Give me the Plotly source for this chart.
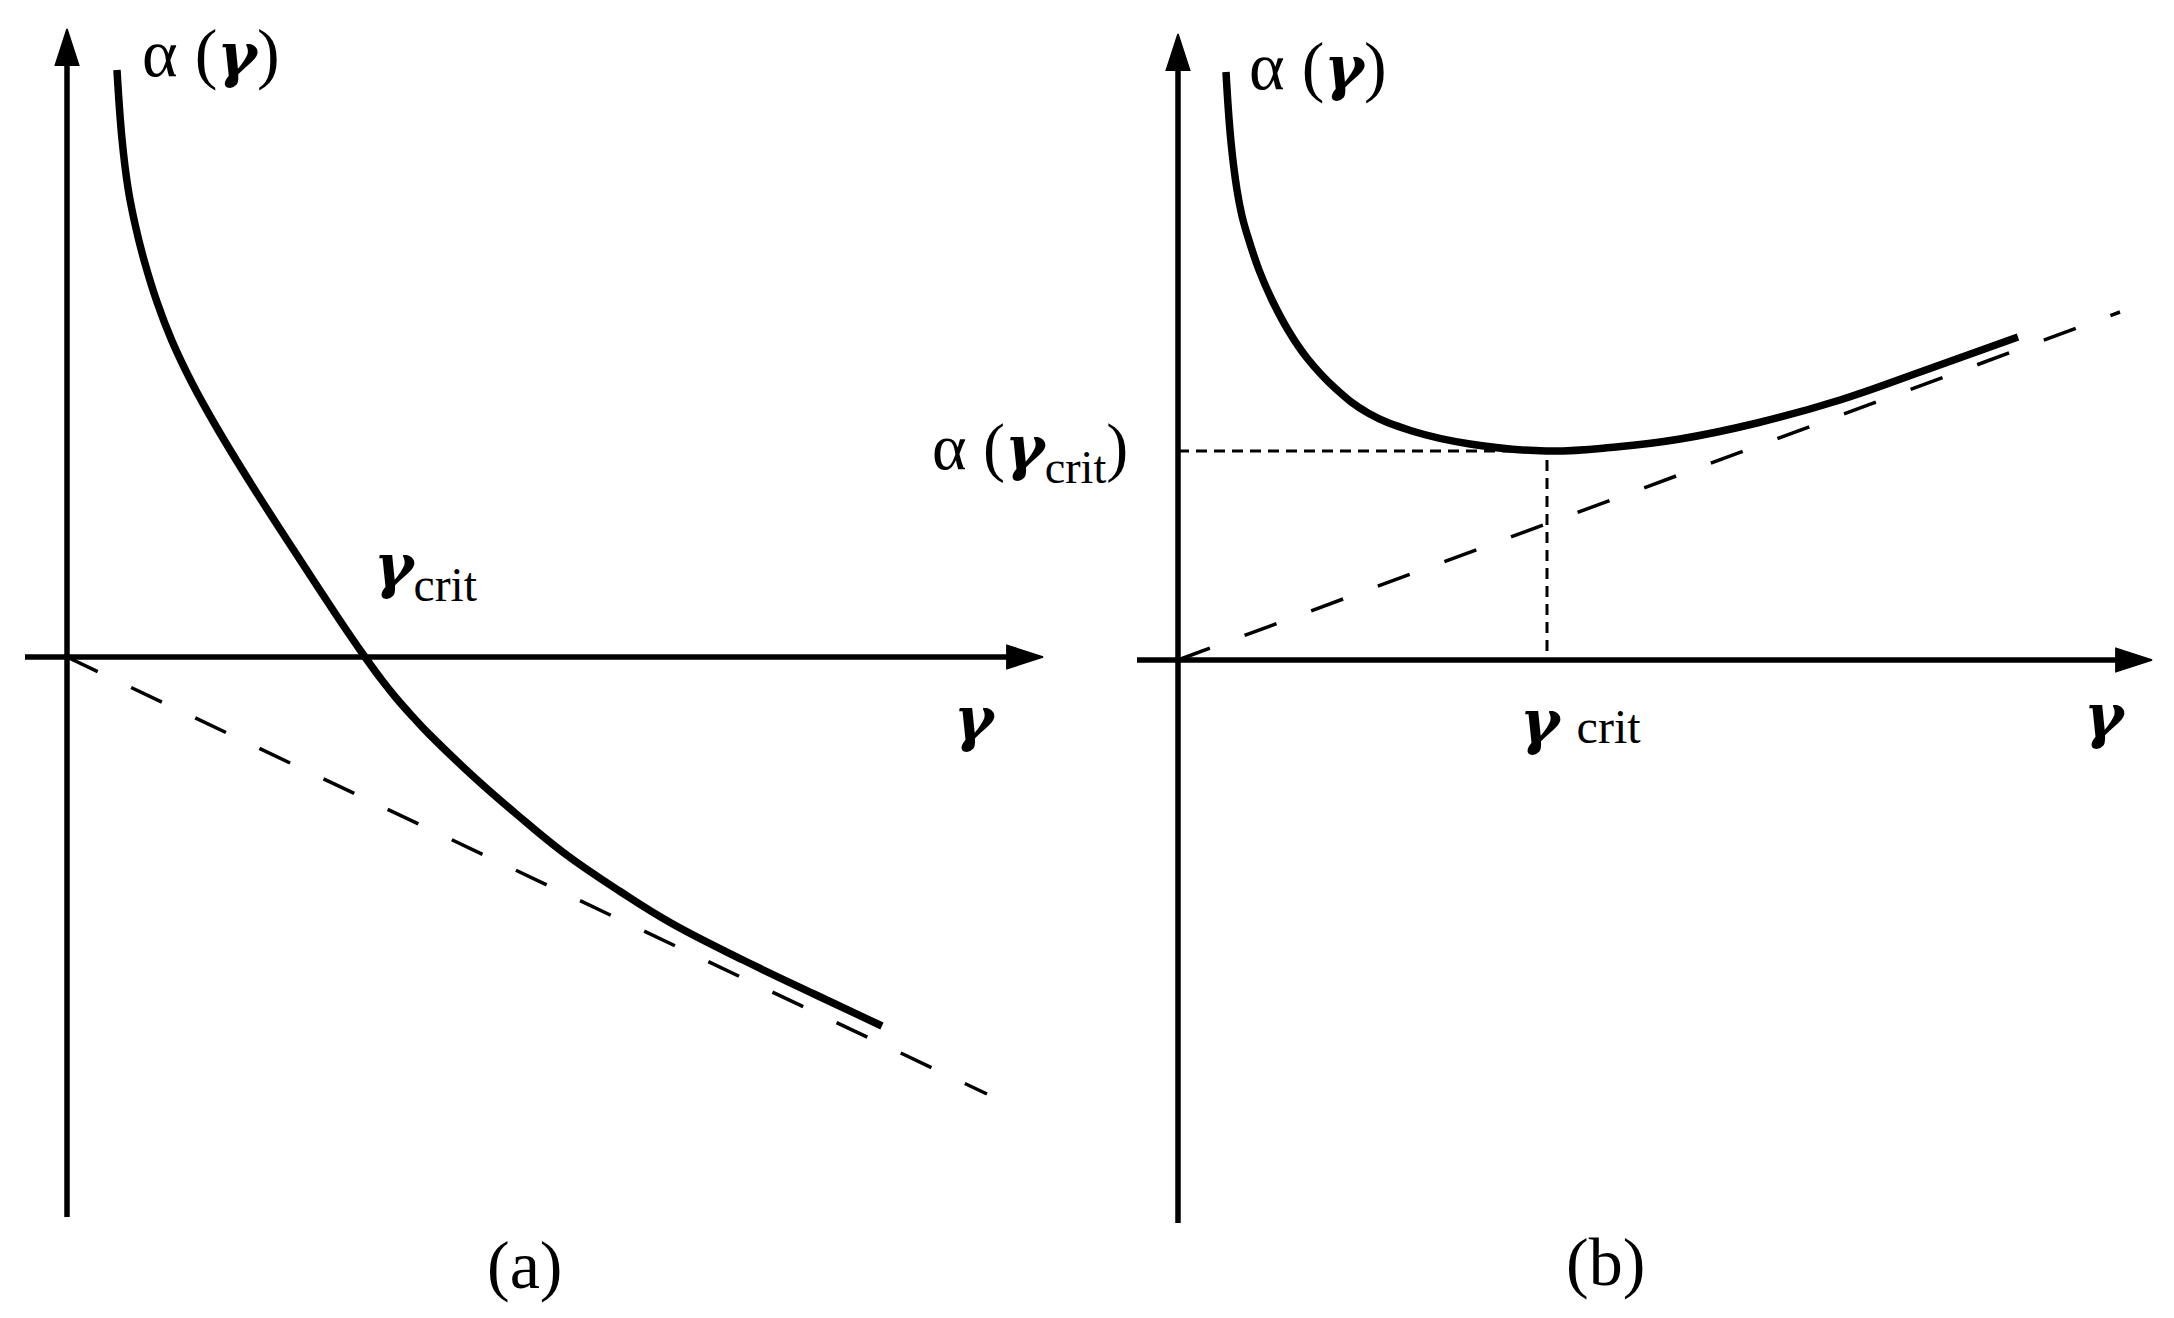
import plotly.graph_objects as go

# --- panel (a): alpha(gamma) falls through zero, asymptote with negative slope
gamma_a = [0.50, 0.55, 0.61, 0.68, 0.77, 0.90, 1.05, 1.25, 1.50, 1.86, 2.26, 2.62, 2.80,
           2.98, 3.14, 3.30, 3.46, 3.62, 4.08, 4.47, 4.97, 5.54, 6.04, 6.76, 7.47, 8.15]
alpha_a = [5.87, 5.18, 4.69, 4.33, 3.97, 3.55, 3.16, 2.74, 2.29, 1.70, 1.08, 0.53, 0.26,
           0.00, -0.22, -0.42, -0.60, -0.77, -1.21, -1.55, -1.96, -2.35, -2.66, -3.03, -3.37, -3.69]
asym_a_gamma = [0.0, 9.20]
asym_a_alpha = [0.0, -4.37]

# --- panel (b): alpha(gamma) with a minimum, asymptote with positive slope
gamma_b = [0.48, 0.53, 0.59, 0.64, 0.69, 0.81, 0.94, 1.10, 1.29, 1.58, 1.90, 2.34,
           2.92, 3.68, 4.38, 5.02, 5.79, 6.62, 7.45, 8.40]
alpha_b = [5.88, 5.18, 4.70, 4.44, 4.26, 3.90, 3.60, 3.30, 3.02, 2.71, 2.47, 2.29,
           2.16, 2.09, 2.13, 2.21, 2.37, 2.60, 2.89, 3.23]
asym_b_gamma = [0.0, 9.42]
asym_b_alpha = [0.0, 3.48]
gamma_crit_b = 3.69
alpha_crit_b = 2.09

# axis extents (data units) for the hand-drawn arrows
axis_a_x = [-0.42, 9.76]
axis_a_y = [-5.60, 6.28]
axis_b_x = [-0.41, 9.74]
axis_b_y = [-5.63, 6.26]

FONT = "Liberation Serif, Times New Roman, serif"
BLACK = "black"
G = "<span style='font-family:DejaVu Serif;font-size:60px'><b><i>γ</i></b></span>"

fig = go.Figure()


def arrow_axis(xs, ys, xa, ya):
    return go.Scatter(
        x=xs, y=ys, xaxis=xa, yaxis=ya, mode="lines+markers", opacity=1,
        line=dict(color=BLACK, width=5.5),
        marker=dict(symbol="arrow", size=[0, 38], angleref="previous", color=BLACK,
                    opacity=1, line=dict(color=BLACK, width=1.5)),
        hoverinfo="skip",
    )


# panel (a)
fig.add_trace(arrow_axis(axis_a_x, [0, 0], "x", "y"))
fig.add_trace(arrow_axis([0, 0], axis_a_y, "x", "y"))
fig.add_trace(go.Scatter(x=asym_a_gamma, y=asym_a_alpha, xaxis="x", yaxis="y", mode="lines",
                         line=dict(color=BLACK, width=3.5, dash="34px,37px")))
fig.add_trace(go.Scatter(x=gamma_a, y=alpha_a, xaxis="x", yaxis="y", mode="lines",
                         line=dict(color=BLACK, width=7.5, shape="spline", smoothing=1.2)))

# panel (b)
fig.add_trace(arrow_axis(axis_b_x, [0, 0], "x2", "y2"))
fig.add_trace(arrow_axis([0, 0], axis_b_y, "x2", "y2"))
fig.add_trace(go.Scatter(x=asym_b_gamma, y=asym_b_alpha, xaxis="x2", yaxis="y2", mode="lines",
                         line=dict(color=BLACK, width=3.5, dash="34px,37px")))
fig.add_trace(go.Scatter(x=[0, gamma_crit_b, gamma_crit_b], y=[alpha_crit_b, alpha_crit_b, 0],
                         xaxis="x2", yaxis="y2", mode="lines",
                         line=dict(color=BLACK, width=3, dash="11px,7px")))
fig.add_trace(go.Scatter(x=gamma_b, y=alpha_b, xaxis="x2", yaxis="y2", mode="lines",
                         line=dict(color=BLACK, width=7.5, shape="spline", smoothing=1.2)))


def label(text, x, y, xref, yref, size=68, xanchor="center"):
    fig.add_annotation(text=text, x=x, y=y, xref=xref, yref=yref, showarrow=False,
                       xanchor=xanchor, yanchor="middle",
                       font=dict(family=FONT, size=size, color=BLACK))


# labels, panel (a)
label("α (" + G + ")", 1.44, 6.04, "x", "y")
label(G + "<sub>crit</sub>", 3.58, 0.86, "x", "y")
label(G, 9.08, -0.62, "x", "y")
label("(a)", 4.57, -6.08, "x", "y")

# labels, panel (b)
label("α (" + G + "<sub>crit</sub>)", -0.48, alpha_crit_b, "x2", "y2", size=66, xanchor="right")
label("α (" + G + ")", 1.40, 5.94, "x2", "y2")
label(G + " <span style='font-size:48px'>crit</span>", 4.02, -0.60, "x2", "y2")
label(G, 9.27, -0.56, "x2", "y2")
label("(b)", 4.27, -6.02, "x2", "y2")

# ranges: 100 px per unit; page body adds an 8 px offset, compensated here
hidden = dict(visible=False, showgrid=False, zeroline=False, fixedrange=True)
fig.update_layout(
    width=2174, height=1318,
    margin=dict(l=0, r=0, t=0, b=0),
    paper_bgcolor="white", plot_bgcolor="white",
    showlegend=False,
    xaxis=dict(domain=[0, 0.5], range=[-0.59, 10.28], **hidden),
    yaxis=dict(domain=[0, 1], range=[-6.69, 6.49], **hidden),
    xaxis2=dict(domain=[0.5, 1], range=[-0.83, 10.04], anchor="y2", **hidden),
    yaxis2=dict(domain=[0, 1], range=[-6.66, 6.52], anchor="x2", **hidden),
)

fig.write_html("out.html")
